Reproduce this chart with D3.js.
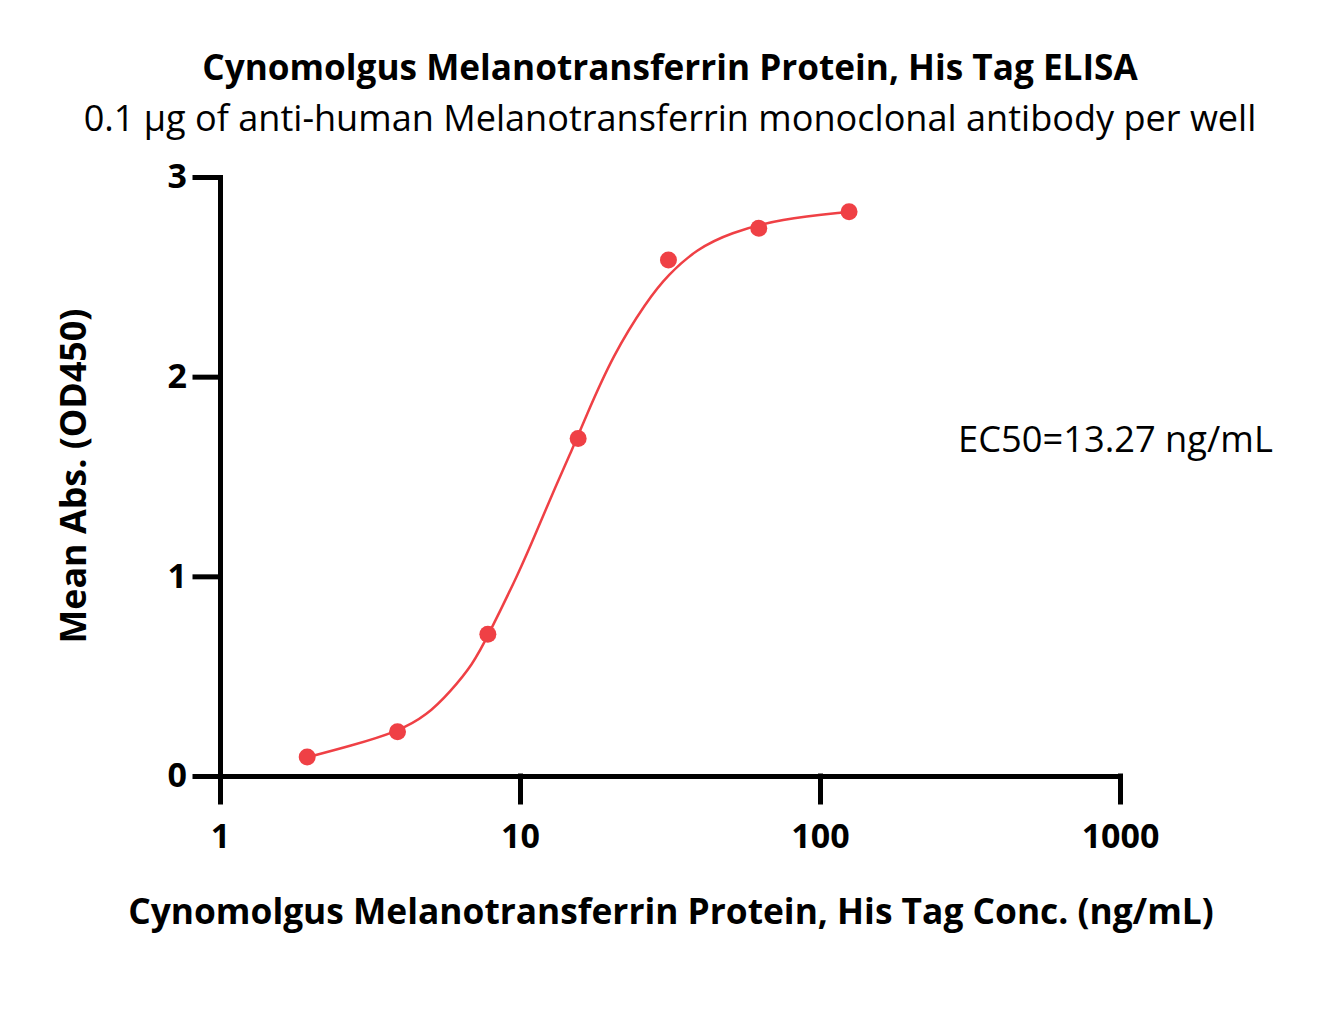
<!DOCTYPE html>
<html lang="en">
<head>
	<meta charset="UTF-8">
	<title>Cynomolgus Melanotransferrin ELISA</title>
	<script src="https://d3js.org/d3.v7.min.js"></script>
	<style>
		body{ margin:0; background:#fff; }
		svg text{ font-family: "Open Sans", Lato, sans-serif; fill:#000; }
		.axis path, .axis line{ stroke:#000; stroke-width:5; stroke-linecap:square; }
		.axis text{ font-size:34px; font-weight:bold; }
	</style>
</head>
<body>
	<div id="chart"></div>
	<script>
		// measured points (ng/mL vs mean OD450)
		const conc = [1.953, 3.906, 7.813, 15.625, 31.25, 62.5, 125];
		const od = [0.095, 0.222, 0.71, 1.69, 2.584, 2.743, 2.826];
		// fitted curve
		const curveConc = [1.965, 2.71, 3.92, 4.90, 5.84, 6.97, 7.81, 10.0, 11.39, 12.88, 14.68, 16.47, 20.42, 26.5, 31.1, 38.9, 50.1, 73.6, 125];
		const curveOd = [0.095, 0.15, 0.222, 0.305, 0.42, 0.56, 0.70, 1.03, 1.23, 1.42, 1.61, 1.79, 2.11, 2.38, 2.51, 2.64, 2.72, 2.79, 2.825];
		const xTicks = [1, 10, 100, 1000];
		const yTicks = [0, 1, 2, 3];

		const width=1318, height=1032;
		const red="#EF4045";

		const svg=d3.select('#chart').append('svg')
			.attr('width',width).attr('height',height);

		const x=d3.scaleLog().domain([1,1000]).range([220,1120]);
		const y=d3.scaleLinear().domain([0,3]).range([776,177]);

		//axes
		svg.append('g').attr('class','axis')
			.attr('transform','translate(220,0)')
			.call(d3.axisLeft(y).tickValues(yTicks).tickFormat(d3.format('d')).tickSize(25).tickSizeOuter(0).tickPadding(8));
		svg.append('g').attr('class','axis')
			.attr('transform','translate(0,776)')
			.call(d3.axisBottom(x).tickValues(xTicks).tickFormat(d3.format('d')).tickSize(26).tickSizeOuter(0).tickPadding(22));

		//fitted curve (smoothed through the read-off points)
		const curveData=curveConc.map((c,i)=>({c:c,v:curveOd[i]}));
		svg.append('path')
			.datum(curveData)
			.attr('fill','none')
			.attr('stroke',red)
			.attr('stroke-width',2.5)
			.attr('d',d3.line().x(d=>x(d.c)).y(d=>y(d.v)).curve(d3.curveBasis));

		//points
		svg.append('g').selectAll('circle')
			.data(conc.map((c,i)=>({c:c,v:od[i]})))
			.enter().append('circle')
			.attr('cx',d=>x(d.c)).attr('cy',d=>y(d.v))
			.attr('r',8.5).attr('fill',red);

		// scale a label's font so it spans the same width as in the original
		function fit(t, w){
			const base=parseFloat(t.style('font-size'));
			const len=t.node().getComputedTextLength();
			t.style('font-size',(base*w/len)+'px');
			return t;
		}

		//titles
		fit(svg.append('text').attr('x',670).attr('y',80)
			.attr('text-anchor','middle').style('font-size','33px').style('font-weight','bold')
			.text('Cynomolgus Melanotransferrin Protein, His Tag ELISA'), 936);
		fit(svg.append('text').attr('x',670).attr('y',131)
			.attr('text-anchor','middle').style('font-size','33px')
			.text('0.1 µg of anti-human Melanotransferrin monoclonal antibody per well'), 1173);
		fit(svg.append('text').attr('x',671).attr('y',924)
			.attr('text-anchor','middle').style('font-size','33px').style('font-weight','bold')
			.text('Cynomolgus Melanotransferrin Protein, His Tag Conc. (ng/mL)'), 1086);
		fit(svg.append('text').attr('transform','translate(86,476) rotate(-90)')
			.attr('text-anchor','middle').style('font-size','33px').style('font-weight','bold')
			.text('Mean Abs. (OD450)'), 335);
		fit(svg.append('text').attr('x',958).attr('y',452)
			.style('font-size','33px')
			.text('EC50=13.27 ng/mL'), 315);
	</script>
</body>
</html>
